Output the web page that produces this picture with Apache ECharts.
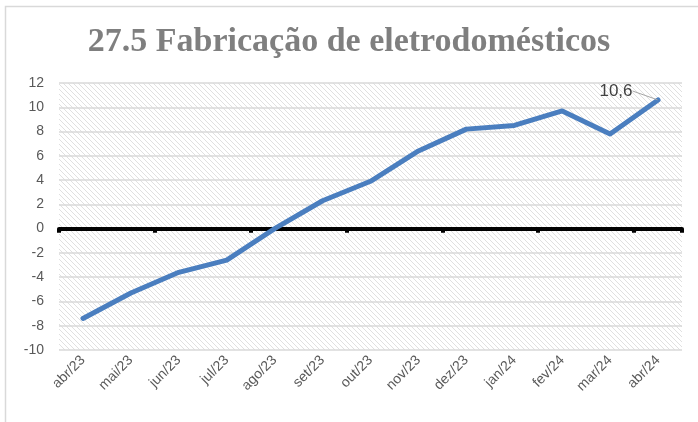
<!DOCTYPE html>
<html>
<head>
<meta charset="utf-8">
<script src="https://cdn.jsdelivr.net/npm/echarts@6/dist/echarts.min.js"></script>
<style>
  html, body { margin: 0; padding: 0; background: #fff; }
  #chart { width: 698px; height: 422px; }
</style>
</head>
<body>
<div id="chart"></div>
<script>
// dados
var meses = ['abr/23', 'mai/23', 'jun/23', 'jul/23', 'ago/23', 'set/23', 'out/23',
             'nov/23', 'dez/23', 'jan/24', 'fev/24', 'mar/24', 'abr/24'];
var valores = [-7.4, -5.3, -3.6, -2.6, 0.0, 2.3, 3.9, 6.4, 8.2, 8.5, 9.7, 7.8, 10.6];
var titulo = '27.5 Fabricação de eletrodomésticos';

var ultimo = valores.length - 1;

// fundo hachurado do gráfico
function hachura() {
    var n = 5;
    var c = document.createElement('canvas');
    c.width = n;
    c.height = n;
    var ctx = c.getContext('2d');
    ctx.fillStyle = '#ffffff';
    ctx.fillRect(0, 0, n, n);
    ctx.strokeStyle = '#e0e0e0';
    ctx.lineWidth = 1;
    ctx.beginPath();
    ctx.moveTo(0, 0); ctx.lineTo(n, n);
    ctx.moveTo(-n, 0); ctx.lineTo(n, 2 * n);
    ctx.moveTo(0, -n); ctx.lineTo(2 * n, n);
    ctx.stroke();
    return c;
}

// só o último ponto leva rótulo
var dados = valores.map(function (v, i) {
    if (i !== ultimo) return v;
    return {
        value: v,
        label: { show: true },
        labelLine: { show: true }
    };
});

var chart = echarts.init(document.getElementById('chart'));
chart.setOption({
    backgroundColor: '#fff',
    animation: false,
    graphic: [{
        type: 'rect',
        shape: { x: 5.5, y: 6.5, width: 700, height: 430 },
        style: { fill: 'none', stroke: '#d9d9d9', lineWidth: 1.5 },
        silent: true
    }],
    title: {
        text: titulo,
        left: 'center',
        top: 20,
        textStyle: {
            fontFamily: 'Liberation Serif',
            fontWeight: 'bold',
            fontSize: 34,
            color: '#7f7f7f'
        }
    },
    grid: {
        left: 59,
        right: 16,
        top: 83,
        bottom: 72,
        show: true,
        borderWidth: 0,
        backgroundColor: { image: hachura(), repeat: 'repeat' }
    },
    xAxis: [{
        type: 'category',
        data: meses,
        boundaryGap: true,
        axisLine: { onZero: true, lineStyle: { color: '#000', width: 4 } },
        axisTick: { show: true, length: 4, lineStyle: { color: '#000', width: 4 } },
        axisLabel: { show: false }
    }, {
        type: 'category',
        data: meses,
        position: 'bottom',
        boundaryGap: true,
        axisLine: { show: false, onZero: false },
        axisTick: { show: false },
        axisLabel: {
            rotate: 45,
            margin: 8,
            fontFamily: 'Liberation Sans',
            fontSize: 14,
            color: '#595959'
        }
    }],
    yAxis: {
        type: 'value',
        min: -10,
        max: 12,
        interval: 2,
        axisLine: { show: false },
        axisTick: { show: false },
        axisLabel: {
            margin: 15,
            fontFamily: 'Liberation Sans',
            fontSize: 14,
            color: '#595959'
        },
        splitLine: { lineStyle: { color: '#d9d9d9', width: 1.5 } }
    },
    series: [{
        type: 'line',
        data: dados,
        xAxisIndex: 0,
        symbol: 'circle',
        symbolSize: 1,
        itemStyle: { color: '#4a7ebf' },
        lineStyle: { color: '#4a7ebf', width: 5, cap: 'round', join: 'round' },
        label: {
            show: false,
            position: 'left',
            fontFamily: 'Liberation Sans',
            fontSize: 17,
            color: '#404040',
            formatter: function (p) {
                return String(p.value).replace('.', ',');
            }
        },
        labelLine: { show: false, lineStyle: { color: '#a6a6a6', width: 1 } },
        labelLayout: function (p) {
            return p.dataIndex === ultimo ? { dx: -20, dy: -9 } : {};
        }
    }]
});
</script>
</body>
</html>
